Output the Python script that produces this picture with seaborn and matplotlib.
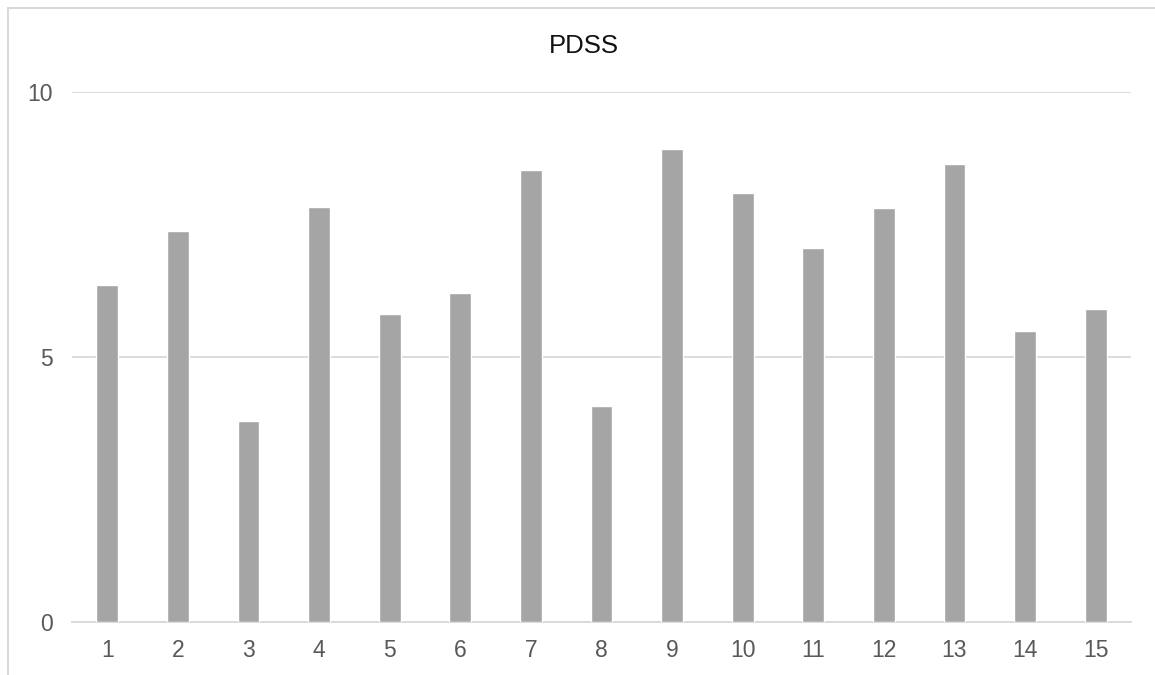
import matplotlib
matplotlib.use('Agg')
import matplotlib.pyplot as plt
import seaborn as sns
import pandas as pd
from matplotlib.patches import Rectangle

# PDSS score per subject
subjects = ['1', '2', '3', '4', '5', '6', '7', '8', '9', '10', '11', '12', '13', '14', '15']
pdss = [6.36, 7.37, 3.80, 7.83, 5.81, 6.21, 8.53, 4.07, 8.93, 8.10, 7.05, 7.81, 8.65, 5.50, 5.90]
y_ticks = [0, 5, 10]

df = pd.DataFrame({'subject': subjects, 'pdss': pdss})

sns.set_style('white')
plt.rcParams['font.family'] = ['Liberation Sans', 'DejaVu Sans']

grid_col = '#D9D9D9'
text_col = '#595959'

fig = plt.figure(figsize=(11.55, 6.75), dpi=100)
ax = fig.add_axes([72/1155, 53/675, (1131-72)/1155, (622-92)/675])

sns.barplot(data=df, x='subject', y='pdss', color='#A5A5A5', saturation=1,
            width=0.31, ax=ax, zorder=3)

ax.set_ylim(0, 10)
ax.set_xlim(-0.5, len(subjects) - 0.5)
ax.set_yticks(y_ticks)
ax.set_yticklabels([str(t) for t in y_ticks])
ax.yaxis.grid(True, color=grid_col, linewidth=1.3, zorder=0)
ax.set_axisbelow(True)
ax.set_xlabel('')
ax.set_ylabel('')

for s in ['top', 'right', 'left']:
    ax.spines[s].set_visible(False)
ax.spines['bottom'].set_color(grid_col)
ax.spines['bottom'].set_linewidth(1.3)

ax.tick_params(axis='both', length=0, labelsize=16.5, colors=text_col)
ax.tick_params(axis='y', pad=14)
ax.tick_params(axis='x', pad=12)

fig.text(584/1155, 1 - 53/675, 'PDSS', ha='center', va='baseline',
         fontsize=18.5, color='#111111')

# chart area border (runs off the canvas on the right and bottom)
fig.patches.append(Rectangle((8/1155, -0.1), 1.2, (675-8)/675 + 0.1,
                             transform=fig.transFigure, fill=False,
                             edgecolor=grid_col, linewidth=1.5))

plt.savefig('out.png', dpi=100)
